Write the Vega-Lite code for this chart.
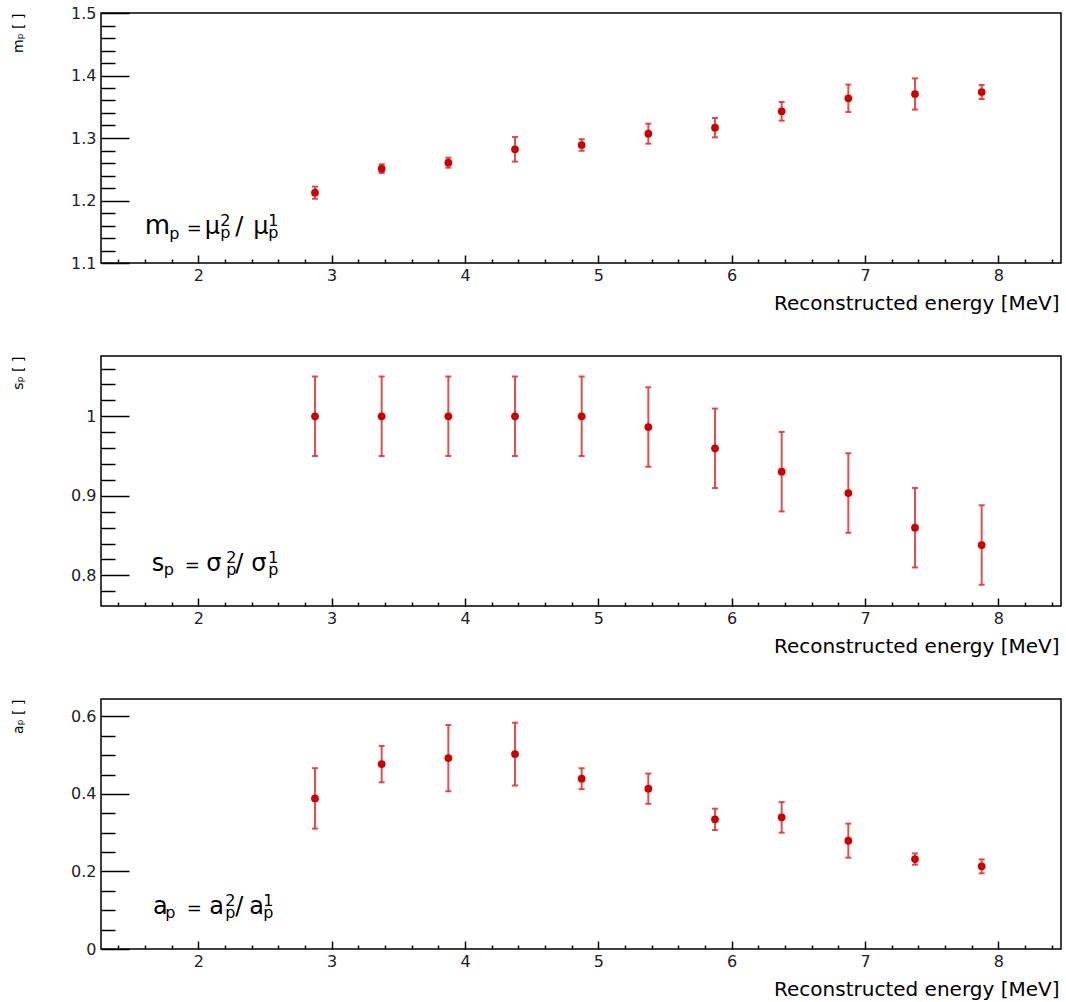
{
  "$schema": "https://vega.github.io/schema/vega-lite/v6.json",
  "background": "white",
  "padding": {"left": 10, "top": 4, "right": 0, "bottom": 0},
  "spacing": 41,
  "config": {"view": {"stroke": "black", "strokeWidth": 1.5}, "font": "DejaVu Sans",
    "text": {"font": "DejaVu Sans", "align": "left", "baseline": "alphabetic", "color": "black"}},
  "datasets": {
    "m": [
      {"E": 2.875, "v": 1.2125, "err": 0.0097},
      {"E": 3.375, "v": 1.2509, "err": 0.007},
      {"E": 3.875, "v": 1.2605, "err": 0.008},
      {"E": 4.375, "v": 1.2819, "err": 0.0197},
      {"E": 4.875, "v": 1.2888, "err": 0.0093},
      {"E": 5.375, "v": 1.3069, "err": 0.016},
      {"E": 5.875, "v": 1.3165, "err": 0.0155},
      {"E": 6.375, "v": 1.3427, "err": 0.015},
      {"E": 6.875, "v": 1.3635, "err": 0.022},
      {"E": 7.375, "v": 1.3704, "err": 0.025},
      {"E": 7.875, "v": 1.3736, "err": 0.0112}
    ],
    "s": [
      {"E": 2.875, "v": 1.0, "err": 0.05},
      {"E": 3.375, "v": 1.0, "err": 0.05},
      {"E": 3.875, "v": 1.0, "err": 0.05},
      {"E": 4.375, "v": 1.0, "err": 0.05},
      {"E": 4.875, "v": 1.0, "err": 0.05},
      {"E": 5.375, "v": 0.9865, "err": 0.05},
      {"E": 5.875, "v": 0.9597, "err": 0.05},
      {"E": 6.375, "v": 0.9303, "err": 0.05},
      {"E": 6.875, "v": 0.9035, "err": 0.05},
      {"E": 7.375, "v": 0.8599, "err": 0.05},
      {"E": 7.875, "v": 0.8381, "err": 0.05}
    ],
    "a": [
      {"E": 2.875, "v": 0.3886, "err": 0.078},
      {"E": 3.375, "v": 0.477, "err": 0.047},
      {"E": 3.875, "v": 0.4925, "err": 0.0855},
      {"E": 4.375, "v": 0.5028, "err": 0.081},
      {"E": 4.875, "v": 0.4394, "err": 0.027},
      {"E": 5.375, "v": 0.4136, "err": 0.039},
      {"E": 5.875, "v": 0.3345, "err": 0.0275},
      {"E": 6.375, "v": 0.3396, "err": 0.0395},
      {"E": 6.875, "v": 0.2795, "err": 0.044},
      {"E": 7.375, "v": 0.232, "err": 0.0146},
      {"E": 7.875, "v": 0.2133, "err": 0.018}
    ]
  },
  "vconcat": [
    {
      "width": 960, "height": 250,
      "data": {"name": "m"},
      "resolve": {"axis": {"x": "independent", "y": "independent"}},
      "layer": [
        {
          "mark": {"type": "errorbar", "ticks": {"size": 6}, "color": "#dd3030", "thickness": 2, "opacity": 0.85},
          "encoding": {
            "x": {"field": "E", "type": "quantitative", "scale": {"domain": [1.27, 8.47], "nice": false, "zero": false},
              "axis": {"orient": "bottom", "values": [2,3,4,5,6,7,8], "format": "~g", "tickSize": -8, "tickWidth": 1.5, "tickColor": "black", "domain": false, "grid": false, "labelFont": "DejaVu Sans", "labelFontSize": 16, "labelColor": "#222222", "labelPadding": 12, "labelFlush": false, "labelOverlap": false, "title": "Reconstructed energy [MeV]", "titleFont": "DejaVu Sans", "titleFontSize": 20, "titleFontWeight": "normal", "titleColor": "black", "titleAlign": "right", "titleBaseline": "alphabetic", "titleAngle": 0, "titleX": 958, "titleY": 46}},
            "y": {"field": "v", "type": "quantitative", "scale": {"domain": [1.1, 1.5], "nice": false, "zero": false},
              "axis": {"orient": "left", "values": [1.1,1.2,1.3,1.4,1.5], "format": "~g", "tickSize": -28, "tickWidth": 1.5, "tickColor": "black", "domain": false, "grid": false, "labelFont": "DejaVu Sans", "labelFontSize": 16, "labelColor": "#222222", "labelPadding": 33, "labelFlush": false, "labelOverlap": false, "title": "mₚ [ ]", "titleFont": "DejaVu Sans", "titleFontSize": 14, "titleFontWeight": "normal", "titleColor": "black", "titleAngle": -90, "titleAlign": "right", "titleBaseline": "alphabetic", "titleX": -79, "titleY": 0}},
            "yError": {"field": "err"}
          }
        },
        {
          "mark": {"type": "point", "filled": true, "size": 60, "color": "#cc0000", "opacity": 1},
          "encoding": {
            "x": {"field": "E", "type": "quantitative", "scale": {"domain": [1.27, 8.47], "nice": false, "zero": false},
              "axis": {"orient": "bottom", "values": [1.4,1.6,1.8,2.2,2.4,2.6,2.8,3.2,3.4,3.6,3.8,4.2,4.4,4.6,4.8,5.2,5.4,5.6,5.8,6.2,6.4,6.6,6.8,7.2,7.4,7.6,7.8,8.2,8.4], "tickSize": -4, "tickWidth": 1.5, "tickColor": "black", "labels": false, "domain": false, "grid": false, "title": null}},
            "y": {"field": "v", "type": "quantitative", "scale": {"domain": [1.1, 1.5], "nice": false, "zero": false},
              "axis": {"orient": "left", "values": [1.12,1.14,1.16,1.18,1.22,1.24,1.26,1.28,1.32,1.34,1.36,1.38,1.42,1.44,1.46,1.48], "tickSize": -14, "tickWidth": 1.5, "tickColor": "black", "labels": false, "domain": false, "grid": false, "title": null}}
          }
        },
        {"data": {"values": [{}]}, "mark": {"type": "text", "text": "m", "fontSize": 26},
          "encoding": {"x": {"datum": 1.5985, "type": "quantitative", "axis": null, "scale": {"domain": [1.27, 8.47], "nice": false, "zero": false}}, "y": {"datum": 1.1459, "type": "quantitative", "axis": null, "scale": {"domain": [1.1, 1.5], "nice": false, "zero": false}}}},
        {"data": {"values": [{}]}, "mark": {"type": "text", "text": "p", "fontSize": 16},
          "encoding": {"x": {"datum": 1.7823, "type": "quantitative", "axis": null, "scale": {"domain": [1.27, 8.47], "nice": false, "zero": false}}, "y": {"datum": 1.1392, "type": "quantitative", "axis": null, "scale": {"domain": [1.1, 1.5], "nice": false, "zero": false}}}},
        {"data": {"values": [{}]}, "mark": {"type": "text", "text": "=", "fontSize": 18},
          "encoding": {"x": {"datum": 1.9135, "type": "quantitative", "axis": null, "scale": {"domain": [1.27, 8.47], "nice": false, "zero": false}}, "y": {"datum": 1.1459, "type": "quantitative", "axis": null, "scale": {"domain": [1.1, 1.5], "nice": false, "zero": false}}}},
        {"data": {"values": [{}]}, "mark": {"type": "text", "text": "μ", "fontSize": 24},
          "encoding": {"x": {"datum": 2.0485, "type": "quantitative", "axis": null, "scale": {"domain": [1.27, 8.47], "nice": false, "zero": false}}, "y": {"datum": 1.1459, "type": "quantitative", "axis": null, "scale": {"domain": [1.1, 1.5], "nice": false, "zero": false}}}},
        {"data": {"values": [{}]}, "mark": {"type": "text", "text": ["2", "p"], "lineHeight": 12.5, "fontSize": 16},
          "encoding": {"x": {"datum": 2.1648, "type": "quantitative", "axis": null, "scale": {"domain": [1.27, 8.47], "nice": false, "zero": false}}, "y": {"datum": 1.16, "type": "quantitative", "axis": null, "scale": {"domain": [1.1, 1.5], "nice": false, "zero": false}}}},
        {"data": {"values": [{}]}, "mark": {"type": "text", "text": "/", "fontSize": 24},
          "encoding": {"x": {"datum": 2.2773, "type": "quantitative", "axis": null, "scale": {"domain": [1.27, 8.47], "nice": false, "zero": false}}, "y": {"datum": 1.1459, "type": "quantitative", "axis": null, "scale": {"domain": [1.1, 1.5], "nice": false, "zero": false}}}},
        {"data": {"values": [{}]}, "mark": {"type": "text", "text": "μ", "fontSize": 24},
          "encoding": {"x": {"datum": 2.4123, "type": "quantitative", "axis": null, "scale": {"domain": [1.27, 8.47], "nice": false, "zero": false}}, "y": {"datum": 1.1459, "type": "quantitative", "axis": null, "scale": {"domain": [1.1, 1.5], "nice": false, "zero": false}}}},
        {"data": {"values": [{}]}, "mark": {"type": "text", "text": ["1", "p"], "lineHeight": 12.5, "fontSize": 16},
          "encoding": {"x": {"datum": 2.5248, "type": "quantitative", "axis": null, "scale": {"domain": [1.27, 8.47], "nice": false, "zero": false}}, "y": {"datum": 1.16, "type": "quantitative", "axis": null, "scale": {"domain": [1.1, 1.5], "nice": false, "zero": false}}}}
      ]
    },
    {
      "width": 960, "height": 250,
      "data": {"name": "s"},
      "resolve": {"axis": {"x": "independent", "y": "independent"}},
      "layer": [
        {
          "mark": {"type": "errorbar", "ticks": {"size": 6}, "color": "#dd3030", "thickness": 2, "opacity": 0.85},
          "encoding": {
            "x": {"field": "E", "type": "quantitative", "scale": {"domain": [1.27, 8.47], "nice": false, "zero": false},
              "axis": {"orient": "bottom", "values": [2,3,4,5,6,7,8], "format": "~g", "tickSize": -8, "tickWidth": 1.5, "tickColor": "black", "domain": false, "grid": false, "labelFont": "DejaVu Sans", "labelFontSize": 16, "labelColor": "#222222", "labelPadding": 12, "labelFlush": false, "labelOverlap": false, "title": "Reconstructed energy [MeV]", "titleFont": "DejaVu Sans", "titleFontSize": 20, "titleFontWeight": "normal", "titleColor": "black", "titleAlign": "right", "titleBaseline": "alphabetic", "titleAngle": 0, "titleX": 958, "titleY": 46}},
            "y": {"field": "v", "type": "quantitative", "scale": {"domain": [0.7614, 1.0758], "nice": false, "zero": false},
              "axis": {"orient": "left", "values": [0.8, 0.9, 1], "format": "~g", "tickSize": -28, "tickWidth": 1.5, "tickColor": "black", "domain": false, "grid": false, "labelFont": "DejaVu Sans", "labelFontSize": 16, "labelColor": "#222222", "labelPadding": 33, "labelFlush": false, "labelOverlap": false, "title": "sₚ [ ]", "titleFont": "DejaVu Sans", "titleFontSize": 14, "titleFontWeight": "normal", "titleColor": "black", "titleAngle": -90, "titleAlign": "right", "titleBaseline": "alphabetic", "titleX": -79, "titleY": 0}},
            "yError": {"field": "err"}
          }
        },
        {
          "mark": {"type": "point", "filled": true, "size": 60, "color": "#cc0000", "opacity": 1},
          "encoding": {
            "x": {"field": "E", "type": "quantitative", "scale": {"domain": [1.27, 8.47], "nice": false, "zero": false},
              "axis": {"orient": "bottom", "values": [1.4,1.6,1.8,2.2,2.4,2.6,2.8,3.2,3.4,3.6,3.8,4.2,4.4,4.6,4.8,5.2,5.4,5.6,5.8,6.2,6.4,6.6,6.8,7.2,7.4,7.6,7.8,8.2,8.4], "tickSize": -4, "tickWidth": 1.5, "tickColor": "black", "labels": false, "domain": false, "grid": false, "title": null}},
            "y": {"field": "v", "type": "quantitative", "scale": {"domain": [0.7614, 1.0758], "nice": false, "zero": false},
              "axis": {"orient": "left", "values": [0.78,0.82,0.84,0.86,0.88,0.92,0.94,0.96,0.98,1.02,1.04,1.06], "tickSize": -14, "tickWidth": 1.5, "tickColor": "black", "labels": false, "domain": false, "grid": false, "title": null}}
          }
        },
        {"data": {"values": [{}]}, "mark": {"type": "text", "text": "s", "fontSize": 24},
          "encoding": {"x": {"datum": 1.651, "type": "quantitative", "axis": null, "scale": {"domain": [1.27, 8.47], "nice": false, "zero": false}}, "y": {"datum": 0.8054, "type": "quantitative", "axis": null, "scale": {"domain": [0.7614, 1.0758], "nice": false, "zero": false}}}},
        {"data": {"values": [{}]}, "mark": {"type": "text", "text": "p", "fontSize": 16},
          "encoding": {"x": {"datum": 1.741, "type": "quantitative", "axis": null, "scale": {"domain": [1.27, 8.47], "nice": false, "zero": false}}, "y": {"datum": 0.8001, "type": "quantitative", "axis": null, "scale": {"domain": [0.7614, 1.0758], "nice": false, "zero": false}}}},
        {"data": {"values": [{}]}, "mark": {"type": "text", "text": "=", "fontSize": 18},
          "encoding": {"x": {"datum": 1.8973, "type": "quantitative", "axis": null, "scale": {"domain": [1.27, 8.47], "nice": false, "zero": false}}, "y": {"datum": 0.8054, "type": "quantitative", "axis": null, "scale": {"domain": [0.7614, 1.0758], "nice": false, "zero": false}}}},
        {"data": {"values": [{}]}, "mark": {"type": "text", "text": "σ", "fontSize": 24},
          "encoding": {"x": {"datum": 2.0598, "type": "quantitative", "axis": null, "scale": {"domain": [1.27, 8.47], "nice": false, "zero": false}}, "y": {"datum": 0.8054, "type": "quantitative", "axis": null, "scale": {"domain": [0.7614, 1.0758], "nice": false, "zero": false}}}},
        {"data": {"values": [{}]}, "mark": {"type": "text", "text": ["2", "p"], "lineHeight": 12.5, "fontSize": 16},
          "encoding": {"x": {"datum": 2.2085, "type": "quantitative", "axis": null, "scale": {"domain": [1.27, 8.47], "nice": false, "zero": false}}, "y": {"datum": 0.8158, "type": "quantitative", "axis": null, "scale": {"domain": [0.7614, 1.0758], "nice": false, "zero": false}}}},
        {"data": {"values": [{}]}, "mark": {"type": "text", "text": "/", "fontSize": 24},
          "encoding": {"x": {"datum": 2.2773, "type": "quantitative", "axis": null, "scale": {"domain": [1.27, 8.47], "nice": false, "zero": false}}, "y": {"datum": 0.8054, "type": "quantitative", "axis": null, "scale": {"domain": [0.7614, 1.0758], "nice": false, "zero": false}}}},
        {"data": {"values": [{}]}, "mark": {"type": "text", "text": "σ", "fontSize": 24},
          "encoding": {"x": {"datum": 2.3973, "type": "quantitative", "axis": null, "scale": {"domain": [1.27, 8.47], "nice": false, "zero": false}}, "y": {"datum": 0.8054, "type": "quantitative", "axis": null, "scale": {"domain": [0.7614, 1.0758], "nice": false, "zero": false}}}},
        {"data": {"values": [{}]}, "mark": {"type": "text", "text": ["1", "p"], "lineHeight": 12.5, "fontSize": 16},
          "encoding": {"x": {"datum": 2.5248, "type": "quantitative", "axis": null, "scale": {"domain": [1.27, 8.47], "nice": false, "zero": false}}, "y": {"datum": 0.8158, "type": "quantitative", "axis": null, "scale": {"domain": [0.7614, 1.0758], "nice": false, "zero": false}}}}
      ]
    },
    {
      "width": 960, "height": 250,
      "data": {"name": "a"},
      "resolve": {"axis": {"x": "independent", "y": "independent"}},
      "layer": [
        {
          "mark": {"type": "errorbar", "ticks": {"size": 6}, "color": "#dd3030", "thickness": 2, "opacity": 0.85},
          "encoding": {
            "x": {"field": "E", "type": "quantitative", "scale": {"domain": [1.27, 8.47], "nice": false, "zero": false},
              "axis": {"orient": "bottom", "values": [2,3,4,5,6,7,8], "format": "~g", "tickSize": -8, "tickWidth": 1.5, "tickColor": "black", "domain": false, "grid": false, "labelFont": "DejaVu Sans", "labelFontSize": 16, "labelColor": "#222222", "labelPadding": 12, "labelFlush": false, "labelOverlap": false, "title": "Reconstructed energy [MeV]", "titleFont": "DejaVu Sans", "titleFontSize": 20, "titleFontWeight": "normal", "titleColor": "black", "titleAlign": "right", "titleBaseline": "alphabetic", "titleAngle": 0, "titleX": 958, "titleY": 46}},
            "y": {"field": "v", "type": "quantitative", "scale": {"domain": [0, 0.645], "nice": false, "zero": false},
              "axis": {"orient": "left", "values": [0, 0.2, 0.4, 0.6], "format": "~g", "tickSize": -28, "tickWidth": 1.5, "tickColor": "black", "domain": false, "grid": false, "labelFont": "DejaVu Sans", "labelFontSize": 16, "labelColor": "#222222", "labelPadding": 33, "labelFlush": false, "labelOverlap": false, "title": "aₚ [ ]", "titleFont": "DejaVu Sans", "titleFontSize": 14, "titleFontWeight": "normal", "titleColor": "black", "titleAngle": -90, "titleAlign": "right", "titleBaseline": "alphabetic", "titleX": -79, "titleY": 0}},
            "yError": {"field": "err"}
          }
        },
        {
          "mark": {"type": "point", "filled": true, "size": 60, "color": "#cc0000", "opacity": 1},
          "encoding": {
            "x": {"field": "E", "type": "quantitative", "scale": {"domain": [1.27, 8.47], "nice": false, "zero": false},
              "axis": {"orient": "bottom", "values": [1.4,1.6,1.8,2.2,2.4,2.6,2.8,3.2,3.4,3.6,3.8,4.2,4.4,4.6,4.8,5.2,5.4,5.6,5.8,6.2,6.4,6.6,6.8,7.2,7.4,7.6,7.8,8.2,8.4], "tickSize": -4, "tickWidth": 1.5, "tickColor": "black", "labels": false, "domain": false, "grid": false, "title": null}},
            "y": {"field": "v", "type": "quantitative", "scale": {"domain": [0, 0.645], "nice": false, "zero": false},
              "axis": {"orient": "left", "values": [0.05,0.1,0.15,0.25,0.3,0.35,0.45,0.5,0.55], "tickSize": -14, "tickWidth": 1.5, "tickColor": "black", "labels": false, "domain": false, "grid": false, "title": null}}
          }
        },
        {"data": {"values": [{}]}, "mark": {"type": "text", "text": "a", "fontSize": 24},
          "encoding": {"x": {"datum": 1.66, "type": "quantitative", "axis": null, "scale": {"domain": [1.27, 8.47], "nice": false, "zero": false}}, "y": {"datum": 0.0903, "type": "quantitative", "axis": null, "scale": {"domain": [0, 0.645], "nice": false, "zero": false}}}},
        {"data": {"values": [{}]}, "mark": {"type": "text", "text": "p", "fontSize": 16},
          "encoding": {"x": {"datum": 1.7523, "type": "quantitative", "axis": null, "scale": {"domain": [1.27, 8.47], "nice": false, "zero": false}}, "y": {"datum": 0.0794, "type": "quantitative", "axis": null, "scale": {"domain": [0, 0.645], "nice": false, "zero": false}}}},
        {"data": {"values": [{}]}, "mark": {"type": "text", "text": "=", "fontSize": 18},
          "encoding": {"x": {"datum": 1.9135, "type": "quantitative", "axis": null, "scale": {"domain": [1.27, 8.47], "nice": false, "zero": false}}, "y": {"datum": 0.0903, "type": "quantitative", "axis": null, "scale": {"domain": [0, 0.645], "nice": false, "zero": false}}}},
        {"data": {"values": [{}]}, "mark": {"type": "text", "text": "a", "fontSize": 24},
          "encoding": {"x": {"datum": 2.0823, "type": "quantitative", "axis": null, "scale": {"domain": [1.27, 8.47], "nice": false, "zero": false}}, "y": {"datum": 0.0903, "type": "quantitative", "axis": null, "scale": {"domain": [0, 0.645], "nice": false, "zero": false}}}},
        {"data": {"values": [{}]}, "mark": {"type": "text", "text": ["2", "p"], "lineHeight": 12.5, "fontSize": 16},
          "encoding": {"x": {"datum": 2.2023, "type": "quantitative", "axis": null, "scale": {"domain": [1.27, 8.47], "nice": false, "zero": false}}, "y": {"datum": 0.1122, "type": "quantitative", "axis": null, "scale": {"domain": [0, 0.645], "nice": false, "zero": false}}}},
        {"data": {"values": [{}]}, "mark": {"type": "text", "text": "/", "fontSize": 24},
          "encoding": {"x": {"datum": 2.2773, "type": "quantitative", "axis": null, "scale": {"domain": [1.27, 8.47], "nice": false, "zero": false}}, "y": {"datum": 0.0903, "type": "quantitative", "axis": null, "scale": {"domain": [0, 0.645], "nice": false, "zero": false}}}},
        {"data": {"values": [{}]}, "mark": {"type": "text", "text": "a", "fontSize": 24},
          "encoding": {"x": {"datum": 2.3823, "type": "quantitative", "axis": null, "scale": {"domain": [1.27, 8.47], "nice": false, "zero": false}}, "y": {"datum": 0.0903, "type": "quantitative", "axis": null, "scale": {"domain": [0, 0.645], "nice": false, "zero": false}}}},
        {"data": {"values": [{}]}, "mark": {"type": "text", "text": ["1", "p"], "lineHeight": 12.5, "fontSize": 16},
          "encoding": {"x": {"datum": 2.4873, "type": "quantitative", "axis": null, "scale": {"domain": [1.27, 8.47], "nice": false, "zero": false}}, "y": {"datum": 0.1122, "type": "quantitative", "axis": null, "scale": {"domain": [0, 0.645], "nice": false, "zero": false}}}}
      ]
    }
  ]
}
